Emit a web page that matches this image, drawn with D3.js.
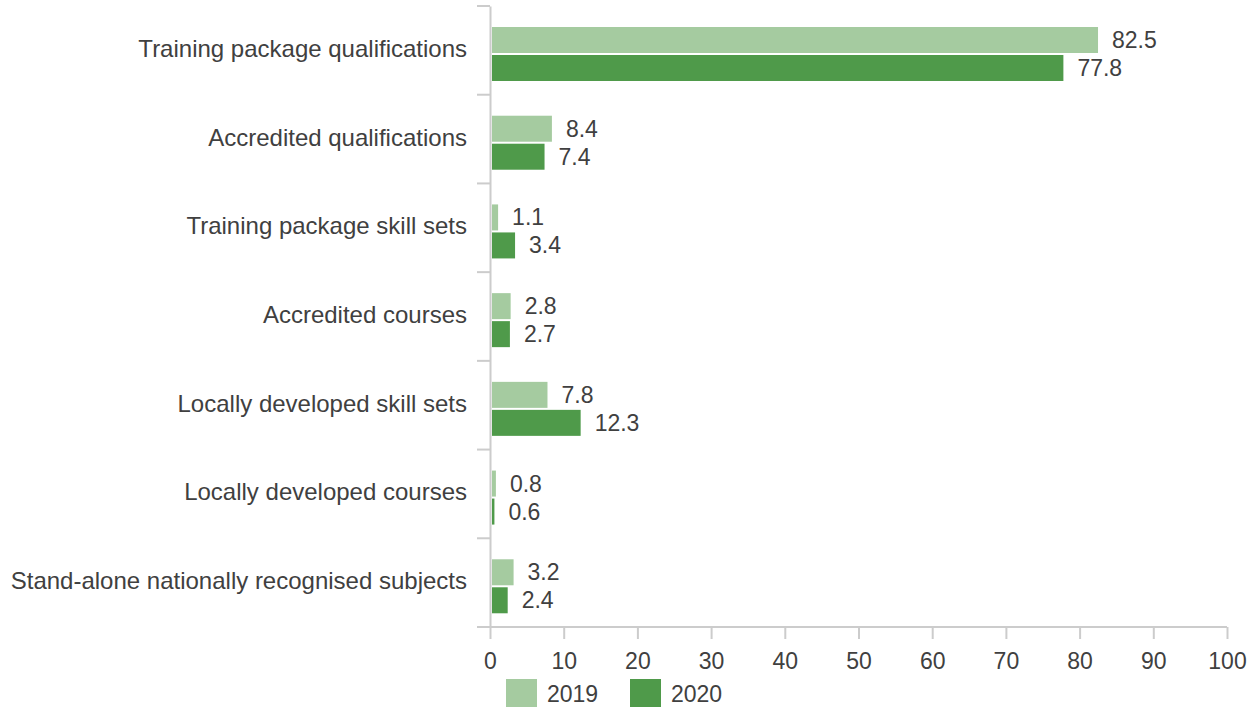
<!DOCTYPE html>
<html><head><meta charset="utf-8">
<script src="https://cdn.jsdelivr.net/npm/d3@7"></script>
<style>body{margin:0;background:#fff}svg{display:block}text{font-family:"Liberation Sans",Arial,sans-serif;fill:#404040}</style>
</head><body><svg id="c" width="1252" height="707"></svg>
<script>
const categories = ["Training package qualifications","Accredited qualifications","Training package skill sets","Accredited courses","Locally developed skill sets","Locally developed courses","Stand-alone nationally recognised subjects"];
const values2019 = [82.5, 8.4, 1.1, 2.8, 7.8, 0.8, 3.2];
const values2020 = [77.8, 7.4, 3.4, 2.7, 12.3, 0.6, 2.4];
const seriesNames = ["2019","2020"];
const colors = ["#a5cba0","#4f9a4a"];
const xTicks = [0,10,20,30,40,50,60,70,80,90,100];

const svg = d3.select("#c");
const x = d3.scaleLinear().domain([0,100]).range([490,1227]);
const y = d3.scaleBand().domain(categories).range([6,627]);
const series = [values2019, values2020];

// axes
const gy = svg.append("g").attr("transform","translate(490,0)")
  .call(d3.axisLeft(y).tickSize(0).tickFormat(""));
gy.select(".domain").attr("stroke","#ccc").attr("stroke-width",2);
const seps = categories.map((c)=>y(c)).concat([627]);
svg.append("g").selectAll("line").data(seps).join("line")
  .attr("x1",477).attr("x2",490).attr("y1",d=>d).attr("y2",d=>d)
  .attr("stroke","#ccc").attr("stroke-width",2);
svg.append("g").selectAll("text").data(categories).join("text")
  .attr("x",467).attr("y",d=>y(d)+y.bandwidth()/2-2).attr("text-anchor","end")
  .attr("dominant-baseline","central").style("font-size","24px").text(d=>d);

const gx = svg.append("g").attr("transform","translate(0,627)")
  .call(d3.axisBottom(x).tickValues(xTicks).tickSize(12).tickSizeOuter(0).tickPadding(14));
gx.select(".domain").attr("stroke","#ccc").attr("stroke-width",2).attr("d","M477,0H1227");
gx.selectAll(".tick line").attr("stroke","#ccc").attr("stroke-width",2);
gx.selectAll(".tick text").style("font-size","23px").attr("fill","#404040");

// bars
series.forEach((vals,si)=>{
  const g = svg.append("g");
  g.selectAll("rect").data(vals).join("rect")
    .attr("x",x(0)+2).attr("y",(d,i)=>y(categories[i])+21+si*28)
    .attr("width",d=>Math.max(0,x(d)-x(0)-2)).attr("height",26)
    .attr("fill",colors[si]);
  g.selectAll("text").data(vals).join("text")
    .attr("x",d=>x(d)+14).attr("y",(d,i)=>y(categories[i])+21+si*28+13)
    .attr("dominant-baseline","central").style("font-size","23px").text(d=>d.toFixed(1));
});

// legend
const lg = svg.append("g");
const lx = [506,630];
seriesNames.forEach((n,i)=>{
  lg.append("rect").attr("x",lx[i]).attr("y",679).attr("width",31).attr("height",28).attr("fill",colors[i]);
  lg.append("text").attr("x",lx[i]+41).attr("y",694).attr("dominant-baseline","central").style("font-size","23px").text(n);
});
</script></body></html>
